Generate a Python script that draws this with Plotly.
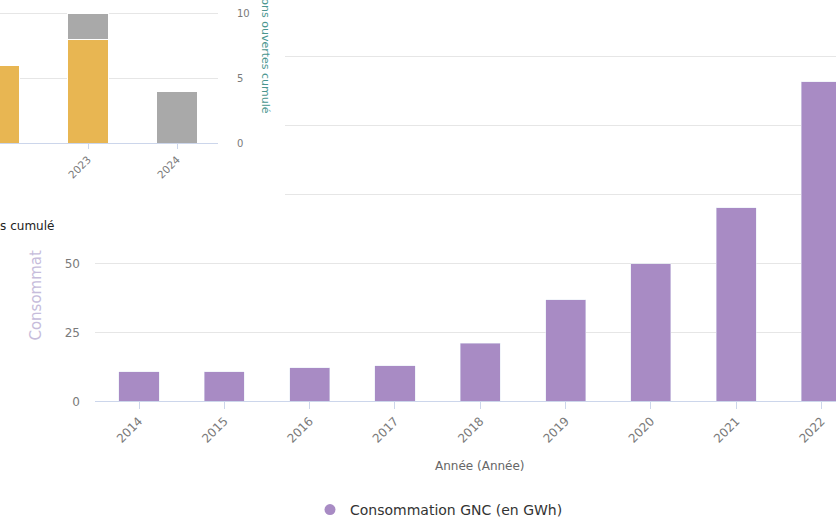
import plotly.graph_objects as go

W, H = 836, 526

# Main chart data
years = ["2014", "2015", "2016", "2017", "2018", "2019", "2020", "2021", "2022"]
conso_gnc = [10.7, 10.7, 12.2, 12.9, 21.1, 36.9, 50.0, 70.2, 116.0]

# Inset chart data (stacked)
inset_years = ["2022", "2023", "2024"]
stations_ouvertes = [6, 8, 0]
stations_projet = [0, 2, 4]

PURPLE = "#a88bc4"
ORANGE = "#e8b652"
GREY = "#a9a9a9"
FONT = "DejaVu Sans"

def px_x(p):
    return p / W

def px_y(p):
    return 1 - p / H

fig = go.Figure()

# Main bars
fig.add_trace(go.Bar(x=years, y=conso_gnc, marker_color=PURPLE, showlegend=False,
                     xaxis="x", yaxis="y", name="Consommation GNC (en GWh)"))
fig.add_trace(go.Scatter(x=[None], y=[None], mode="markers",
                         marker=dict(symbol="circle", size=11, color=PURPLE),
                         name="Consommation GNC (en GWh)", xaxis="x", yaxis="y"))

# cover subplot (white background above main chart)
fig.add_trace(go.Scatter(x=[None], y=[None], mode="markers", showlegend=False,
                         hoverinfo="skip", xaxis="x2", yaxis="y2"))

# inset stacked bars
fig.add_trace(go.Bar(x=inset_years, y=stations_ouvertes, marker_color=ORANGE,
                     marker_line=dict(color="white", width=1), showlegend=False,
                     xaxis="x3", yaxis="y3", name="Stations ouvertes"))
fig.add_trace(go.Bar(x=inset_years, y=stations_projet, marker_color=GREY,
                     marker_line=dict(color="white", width=1), showlegend=False,
                     xaxis="x3", yaxis="y3", name="Stations en projet"))

MAIN_ZERO, MAIN_125 = 406, 57.5
main_y_px_per_unit = (MAIN_ZERO - MAIN_125) / 125
INSET_ZERO, INSET_10 = 145, 14
inset_px_per_unit = (INSET_ZERO - INSET_10) / 10

fig.update_layout(
    width=W, height=H,
    margin=dict(l=0, r=0, t=0, b=0),
    paper_bgcolor="white", plot_bgcolor="white",
    font=dict(family=FONT, color="#666666"),
    barmode="stack", bargap=0.53,
    xaxis=dict(domain=[px_x(95), 1], anchor="y", type="category",
               range=[-0.516, 8.17], showgrid=False, showline=True,
               linecolor="#ccd6eb", ticks="outside", ticklen=7, tickcolor="#ccd6eb",
               tickangle=-45, tickfont=dict(size=12, color="#7a7a7a"), automargin=False),
    yaxis=dict(domain=[px_y(MAIN_ZERO), 1], anchor="x", range=[0, MAIN_ZERO / main_y_px_per_unit],
               dtick=25, showgrid=True, gridcolor="#e6e6e6", zeroline=False,
               ticks="", ticklabelstandoff=14, tickfont=dict(size=12, color="#7a7a7a"),
               automargin=False),
    xaxis2=dict(domain=[0, px_x(285)], anchor="y2", visible=False, range=[0, 1]),
    yaxis2=dict(domain=[px_y(250), 1], anchor="x2", visible=False, range=[0, 1]),
    xaxis3=dict(domain=[0, px_x(218)], anchor="y3", type="category",
                range=[0.011, 2.46], showgrid=False, showline=True,
                linecolor="#ccd6eb", ticks="outside", ticklen=5, tickcolor="#ccd6eb",
                tickangle=-45, tickfont=dict(size=10.5, color="#7a7a7a"), automargin=False),
    yaxis3=dict(domain=[px_y(INSET_ZERO), 1], anchor="x3", side="right",
                range=[0, INSET_ZERO / inset_px_per_unit], dtick=5, showgrid=True,
                gridcolor="#e6e6e6", zeroline=False, ticks="", ticklabelstandoff=18,
                tickfont=dict(size=10, color="#7a7a7a"), automargin=False),
    legend=dict(orientation="h", x=px_x(310), y=px_y(516), xanchor="left", yanchor="middle",
                font=dict(size=14, color="#333333"), bgcolor="rgba(0,0,0,0)"),
    annotations=[
        dict(text="Année (Année)", x=px_x(480), y=px_y(471), xref="paper", yref="paper",
             showarrow=False, font=dict(size=12, color="#666666"), xanchor="center", yanchor="middle"),
        dict(text="Consommat", x=px_x(36), y=px_y(347), xref="paper", yref="paper",
             showarrow=False, textangle=-90, font=dict(size=15, color="#c6bcdb"),
             xanchor="center", yanchor="bottom"),
        dict(text="Nombre de stations ouvertes cumulé", x=px_x(265), y=px_y(117),
             xref="paper", yref="paper", showarrow=False, textangle=90,
             font=dict(size=11, color="#4a968f"), xanchor="center", yanchor="bottom"),
        dict(text="Nombre de stations ouvertes cumulé", x=px_x(56), y=px_y(229),
             xref="paper", yref="paper", showarrow=False,
             font=dict(size=12, color="#222222"), xanchor="right", yanchor="middle"),
    ],
)

fig.write_html("out.html")
